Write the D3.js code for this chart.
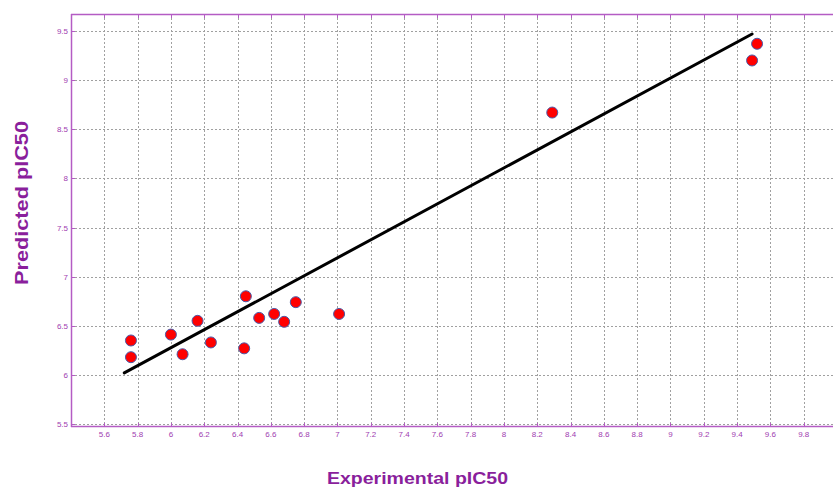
<!DOCTYPE html>
<html lang="en">
<head>
    <meta charset="UTF-8">
    <title>Experimental vs Predicted pIC50</title>
    <script src="https://d3js.org/d3.v7.min.js"></script>
    <style>
        body { margin: 0; background: #fff; overflow: hidden; }
        svg { display: block; font-family: "Liberation Sans", Arial, sans-serif; }
    </style>
</head>
<body>
    <div id="chart"></div>
    <script>
        // Data
        const experimental = [5.76, 5.76, 6.00, 6.07, 6.16, 6.24, 6.45, 6.44, 6.53, 6.62, 6.68, 6.75, 7.01, 8.29, 9.52, 9.49];
        const predicted    = [6.35, 6.18, 6.41, 6.21, 6.55, 6.33, 6.80, 6.27, 6.58, 6.62, 6.54, 6.74, 6.62, 8.67, 9.37, 9.20];
        const fitX = [5.72, 9.49];
        const fitY = [6.02, 9.47];
        const xTicks = [5.6, 5.8, 6, 6.2, 6.4, 6.6, 6.8, 7, 7.2, 7.4, 7.6, 7.8, 8, 8.2, 8.4, 8.6, 8.8, 9, 9.2, 9.4, 9.6, 9.8, 10];
        const yTicks = [5.5, 6, 6.5, 7, 7.5, 8, 8.5, 9, 9.5];

        const width = 833, height = 488;
        const axisColor = "#b45cc4";
        const labelColor = "#a03cb0";
        const titleColor = "#8a1f9c";

        const svg = d3.select("#chart").append("svg")
            .attr("width", width)
            .attr("height", height);

        // scales: 5.6 -> 104px, 9.8 -> 803px ; 9.5 -> 31px, 5.5 -> 424px
        const x = d3.scaleLinear().domain([5.4, 10.0]).range([71, 837]);
        const y = d3.scaleLinear().domain([5.5, 9.5]).range([424, 31]);
        const plotTop = 14, plotLeft = 71, plotBottom = 426;

        // grid
        const grid = svg.append("g")
            .attr("stroke", "#a0a0a0")
            .attr("stroke-width", 1)
            .attr("stroke-dasharray", "2,2");
        grid.selectAll(".vg").data(xTicks).join("line")
            .attr("x1", d => Math.round(x(d)) + 0.5).attr("x2", d => Math.round(x(d)) + 0.5)
            .attr("y1", plotTop).attr("y2", plotBottom);
        grid.selectAll(".hg").data(yTicks).join("line")
            .attr("x1", plotLeft).attr("x2", width)
            .attr("y1", d => Math.round(y(d)) + 0.5).attr("y2", d => Math.round(y(d)) + 0.5);

        // frame lines
        svg.append("line").attr("x1", plotLeft + 0.5).attr("x2", plotLeft + 0.5).attr("y1", plotTop).attr("y2", plotBottom + 1)
            .attr("stroke", axisColor).attr("stroke-width", 1.5);
        svg.append("line").attr("x1", plotLeft).attr("x2", width).attr("y1", plotTop + 0.5).attr("y2", plotTop + 0.5)
            .attr("stroke", axisColor).attr("stroke-width", 1.5);
        svg.append("line").attr("x1", plotLeft).attr("x2", width).attr("y1", plotBottom + 0.5).attr("y2", plotBottom + 0.5)
            .attr("stroke", axisColor).attr("stroke-width", 1.5);

        // tick marks
        const ticks = svg.append("g").attr("stroke", axisColor).attr("stroke-width", 1);
        ticks.selectAll(".tt").data(xTicks).join("line")
            .attr("x1", d => Math.round(x(d)) + 0.5).attr("x2", d => Math.round(x(d)) + 0.5)
            .attr("y1", plotTop).attr("y2", plotTop + 4);
        ticks.selectAll(".bt").data(xTicks).join("line")
            .attr("x1", d => Math.round(x(d)) + 0.5).attr("x2", d => Math.round(x(d)) + 0.5)
            .attr("y1", plotBottom - 3).attr("y2", plotBottom);
        ticks.selectAll(".lt").data(yTicks).join("line")
            .attr("x1", plotLeft).attr("x2", plotLeft + 4)
            .attr("y1", d => Math.round(y(d)) + 0.5).attr("y2", d => Math.round(y(d)) + 0.5);

        // tick labels
        svg.append("g").selectAll("text").data(xTicks.filter(d => d < 9.9)).join("text")
            .attr("x", d => x(d))
            .attr("y", plotBottom + 11)
            .attr("text-anchor", "middle")
            .attr("font-size", 8)
            .attr("fill", labelColor)
            .text(d => d);
        svg.append("g").selectAll("text").data(yTicks).join("text")
            .attr("x", plotLeft - 3)
            .attr("y", d => y(d) + 3)
            .attr("text-anchor", "end")
            .attr("font-size", 8)
            .attr("fill", labelColor)
            .text(d => d);

        // fit line
        svg.append("line")
            .attr("x1", x(fitX[0])).attr("y1", y(fitY[0]))
            .attr("x2", x(fitX[1])).attr("y2", y(fitY[1]))
            .attr("stroke", "#000")
            .attr("stroke-width", 3)
            .attr("stroke-linecap", "round");

        // points
        svg.append("g").selectAll("circle").data(experimental).join("circle")
            .attr("cx", d => x(d))
            .attr("cy", (d, i) => y(predicted[i]))
            .attr("r", 5.5)
            .attr("fill", "#ff0000")
            .attr("stroke", "#4a5aa8")
            .attr("stroke-width", 1);

        // axis titles (stretched a little, as in the source image)
        svg.append("text")
            .attr("transform", "translate(28,121) rotate(-90)")
            .attr("x", -164)
            .attr("font-size", 19)
            .attr("font-weight", "bold")
            .attr("fill", titleColor)
            .attr("textLength", 164)
            .attr("lengthAdjust", "spacingAndGlyphs")
            .text("Predicted pIC50");
        svg.append("text")
            .attr("x", 327)
            .attr("y", 484)
            .attr("font-size", 17)
            .attr("font-weight", "bold")
            .attr("fill", titleColor)
            .attr("textLength", 181)
            .attr("lengthAdjust", "spacingAndGlyphs")
            .text("Experimental pIC50");
    </script>
</body>
</html>
